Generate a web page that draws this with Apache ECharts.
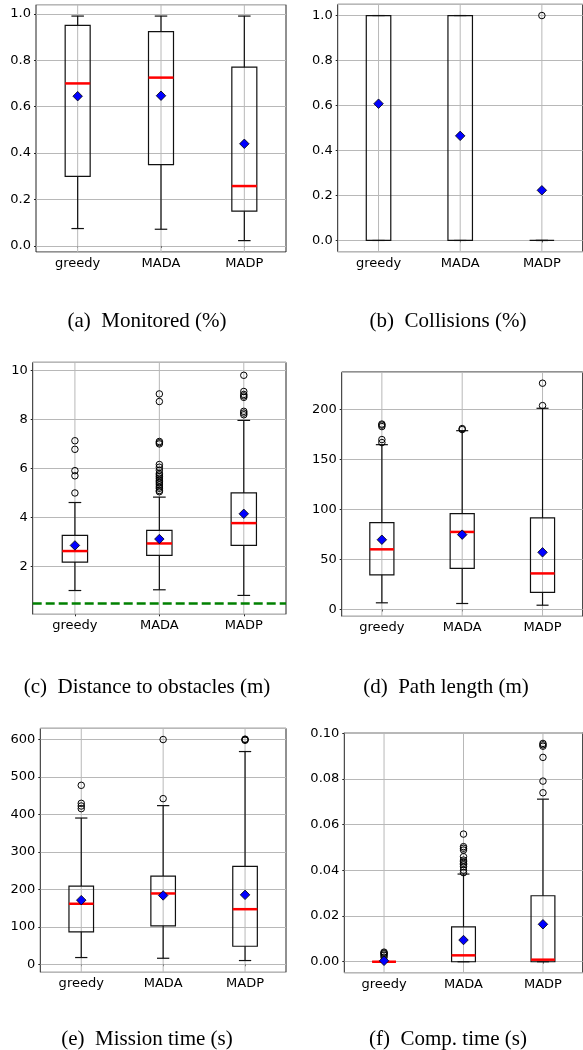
<!DOCTYPE html>
<html>
<head>
<meta charset="utf-8">
<script src="https://cdn.jsdelivr.net/npm/echarts@6/dist/echarts.min.js"></script>
<style>
  html, body { margin: 0; padding: 0; background: #fff; }
  #chart { width: 583px; height: 1050px; }
</style>
</head>
<body>
<div id="chart"></div>
<script>
const categories = ['greedy', 'MADA', 'MADP'];

// boxes: [whisker low, Q1, Q3, whisker high] per category
const monitoredBoxes = [[0.075, 0.30, 0.95, 0.99], [0.072, 0.35, 0.923, 0.99], [0.023, 0.15, 0.77, 0.99]];
const monitoredMedians = [0.70, 0.725, 0.258];
const monitoredMeans = [0.645, 0.647, 0.44];
const monitoredOutliers = [[], [], []];

const collisionBoxes = [[0, 0, 1, 1], [0, 0, 1, 1], [0, 0, 0, 0]];
const collisionMedians = [null, null, null];
const collisionMeans = [0.608, 0.465, 0.223];
const collisionOutliers = [[], [], [1]];

const distanceBoxes = [[1.02, 2.18, 3.27, 4.61], [1.05, 2.45, 3.47, 4.83], [0.82, 2.86, 5.0, 7.96]];
const distanceMedians = [2.63, 2.94, 3.77];
const distanceMeans = [2.86, 3.12, 4.15];
const distanceOutliers = [
  [5.0, 5.7, 5.91, 6.78, 7.13],
  [5.05, 5.1, 5.19, 5.25, 5.33, 5.4, 5.46, 5.52, 5.6, 5.67, 5.74, 5.8, 5.93, 6.05, 6.16, 7.0, 7.05, 7.1, 8.73, 9.04],
  [8.19, 8.26, 8.33, 8.9, 8.96, 9.02, 9.14, 9.8]
];
const distanceThreshold = 0.5;

const pathBoxes = [[6.7, 34.7, 86.9, 164.9], [6.0, 41.1, 95.9, 178.9], [4.3, 17.1, 91.6, 201.3]];
const pathMedians = [60.2, 77.6, 36.1];
const pathMeans = [69.8, 74.9, 57.2];
const pathOutliers = [[167, 170, 183, 184.5, 185.5], [180, 181], [204, 226.4]];

const missionBoxes = [[17.9, 86.6, 208.6, 390.4], [16, 102.6, 235.3, 423.5], [9.9, 48.1, 261.2, 567.9]];
const missionMedians = [161.5, 189, 147];
const missionMeans = [171.2, 183.7, 185.3];
const missionOutliers = [[415.5, 422.5, 429.7, 477.8], [442.2, 600], [598, 600, 601]];

const compBoxes = [[0, 0, 0, 0], [0, 0, 0.0153, 0.0384], [0, 0, 0.0289, 0.0712]];
const compMedians = [0, 0.0028, 0.0009];
const compMeans = [0.0004, 0.0095, 0.0164];
const compOutliers = [
  [0.002, 0.0028, 0.0034, 0.0038, 0.0042],
  [0.039, 0.0401, 0.0416, 0.0425, 0.0431, 0.0438, 0.0445, 0.046, 0.0489, 0.0497, 0.0504, 0.0559],
  [0.074, 0.0791, 0.0895, 0.0944, 0.095, 0.0956]
];

const panels = [
  { boxes: monitoredBoxes, medians: monitoredMedians, means: monitoredMeans, outliers: monitoredOutliers,
    caption: '(a)  Monitored (%)', grid: [36, 4.7, 250, 247.3], y: [-0.026, 1.039], dec: 1, cap: [147, 321] },
  { boxes: collisionBoxes, medians: collisionMedians, means: collisionMeans, outliers: collisionOutliers,
    caption: '(b)  Collisions (%)', grid: [337.7, 4.3, 245, 247.4], y: [-0.05, 1.05], dec: 1, cap: [448, 321] },
  { boxes: distanceBoxes, medians: distanceMedians, means: distanceMeans, outliers: distanceOutliers,
    caption: '(c)  Distance to obstacles (m)', grid: [32.7, 362.3, 253.3, 252], y: [0.05, 10.33], dec: 0, cap: [147, 687],
    threshold: distanceThreshold },
  { boxes: pathBoxes, medians: pathMedians, means: pathMeans, outliers: pathOutliers,
    caption: '(d)  Path length (m)', grid: [341.7, 372, 241, 244.3], y: [-6.8, 237.6], dec: 0, cap: [446, 687] },
  { boxes: missionBoxes, medians: missionMedians, means: missionMeans, outliers: missionOutliers,
    caption: '(e)  Mission time (s)', grid: [40.3, 728.3, 245.7, 244], y: [-21.5, 630], dec: 0, cap: [147, 1039] },
  { boxes: compBoxes, medians: compMedians, means: compMeans, outliers: compOutliers,
    caption: '(f)  Comp. time (s)', grid: [344.3, 732.7, 238.4, 240], y: [-0.0048, 0.1003], dec: 2, cap: [448, 1039] }
];

const frameColor = '#222';
const gridColor = '#b8b8b8';
const labelFont = 'DejaVu Sans';

function renderBox(params, api) {
  const i = api.value(0);
  const half = api.size([1, 0])[0] * 0.15;
  const cx = api.coord([i, 0])[0];
  const yLow = api.coord([i, api.value(1)])[1];
  const yQ1 = api.coord([i, api.value(2)])[1];
  const yQ3 = api.coord([i, api.value(3)])[1];
  const yHigh = api.coord([i, api.value(4)])[1];
  const cs = params.coordSys;
  const st = { stroke: '#111', lineWidth: 1.2, fill: null };
  return {
    type: 'group',
    children: [
      // vertical grid line at the category
      { type: 'line', shape: { x1: cx, y1: cs.y, x2: cx, y2: cs.y + cs.height }, style: { stroke: gridColor, lineWidth: 1 } },
      { type: 'line', shape: { x1: cx, y1: yQ1, x2: cx, y2: yLow }, style: st },
      { type: 'line', shape: { x1: cx, y1: yQ3, x2: cx, y2: yHigh }, style: st },
      { type: 'line', shape: { x1: cx - half / 2, y1: yLow, x2: cx + half / 2, y2: yLow }, style: st },
      { type: 'line', shape: { x1: cx - half / 2, y1: yHigh, x2: cx + half / 2, y2: yHigh }, style: st },
      { type: 'rect', shape: { x: cx - half, y: yQ3, width: half * 2, height: Math.max(yQ1 - yQ3, 0) }, style: st }
    ]
  };
}

function renderMedian(params, api) {
  const i = api.value(0);
  const half = api.size([1, 0])[0] * 0.15;
  const p = api.coord([i, api.value(1)]);
  return {
    type: 'line',
    shape: { x1: p[0] - half, y1: p[1], x2: p[0] + half, y2: p[1] },
    style: { stroke: '#ff0000', lineWidth: 2.5 }
  };
}

const grids = [], xAxes = [], yAxes = [], series = [], graphics = [];

panels.forEach((p, k) => {
  grids.push({
    left: p.grid[0], top: p.grid[1], width: p.grid[2], height: p.grid[3],
    show: true, borderColor: frameColor, borderWidth: 1, backgroundColor: 'transparent'
  });
  xAxes.push({
    type: 'category', gridIndex: k, data: categories, boundaryGap: true,
    axisLine: { show: false },
    axisTick: { show: true, alignWithLabel: true, length: 2, lineStyle: { color: frameColor } },
    axisLabel: { color: '#000', fontSize: 13, fontFamily: labelFont, margin: 5 },
    splitLine: { show: false }
  });
  yAxes.push({
    type: 'value', gridIndex: k, min: p.y[0], max: p.y[1], scale: true,
    axisLine: { show: false },
    axisTick: { show: true, length: 2, lineStyle: { color: frameColor } },
    axisLabel: {
      color: '#000', fontSize: 13, fontFamily: labelFont, margin: 5,
      showMinLabel: false, showMaxLabel: false,
      formatter: v => v.toFixed(p.dec)
    },
    splitLine: { show: true, lineStyle: { color: gridColor, width: 1 } }
  });
  series.push({
    type: 'custom', xAxisIndex: k, yAxisIndex: k, renderItem: renderBox,
    data: p.boxes.map((b, i) => [i].concat(b)), silent: true, z: 2
  });
  series.push({
    type: 'custom', xAxisIndex: k, yAxisIndex: k, renderItem: renderMedian,
    data: p.medians.map((m, i) => [i, m]).filter(d => d[1] != null), silent: true, z: 3
  });
  const out = [];
  p.outliers.forEach((list, i) => list.forEach(v => out.push([i, v])));
  series.push({
    type: 'scatter', xAxisIndex: k, yAxisIndex: k, data: out, symbol: 'circle', symbolSize: 6.5,
    itemStyle: { color: 'rgba(0,0,0,0)', borderColor: '#000', borderWidth: 1, opacity: 1 },
    silent: true, z: 4
  });
  series.push({
    type: 'scatter', xAxisIndex: k, yAxisIndex: k, data: p.means.map((m, i) => [i, m]),
    symbol: 'diamond', symbolSize: [9.5, 9.5],
    itemStyle: { color: '#0000ff', borderColor: '#000', borderWidth: 0.8, opacity: 1 },
    silent: true, z: 5
  });
  if (p.threshold != null) {
    series.push({
      type: 'line', xAxisIndex: k, yAxisIndex: k, data: [], silent: true, z: 3,
      markLine: {
        silent: true, symbol: 'none', label: { show: false },
        lineStyle: { color: '#008000', width: 2.5, type: [9, 4] },
        data: [{ yAxis: p.threshold }]
      }
    });
  }
  graphics.push({
    type: 'text', x: p.cap[0], y: p.cap[1],
    style: { text: p.caption, fill: '#000', font: '21px "Liberation Serif"', align: 'center', verticalAlign: 'middle' }
  });
});

const chart = echarts.init(document.getElementById('chart'), null, { renderer: 'canvas' });
chart.setOption({
  animation: false,
  backgroundColor: '#fff',
  grid: grids,
  xAxis: xAxes,
  yAxis: yAxes,
  series: series,
  graphic: graphics
});
</script>
</body>
</html>
